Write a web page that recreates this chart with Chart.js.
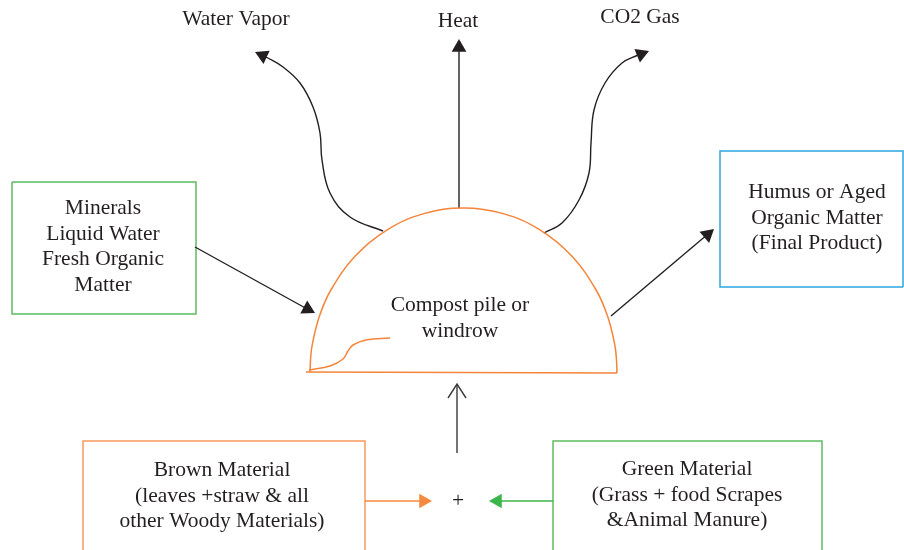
<!DOCTYPE html>
<html>
<head>
<meta charset="utf-8">
<script src="https://cdn.jsdelivr.net/npm/chart.js@4/dist/chart.umd.min.js"></script>
<style>
  html, body { margin: 0; padding: 0; background: #fff; }
  #wrap { width: 904px; height: 550px; }
</style>
</head>
<body>
<div id="wrap"><canvas id="mycanvas" width="904" height="550"></canvas></div>
<script>
// the diagram lives on a 904 x 550 grid, y running downwards

// compost pile (half ellipse + ground line + small inner curl)
var pileArc = [[310,372],[310.6,358.6],[312.3,344.4],[319.3,316.6],[330.6,290.5],[355,256.3],[386.8,230.1],[423.8,213.6],[463.5,208],[503.2,213.6],[540.3,230.1],[572,256.3],[596.4,290.5],[607.7,316.6],[614.7,344.4],[616.4,358.6],[617,373]];
var pileBase = [[306,372],[617,373]];
var pileCurl = [[309,370],[330,366],[343,359],[348,351],[353,345],[366,340],[390,338]];

// outputs going up
var vaporPath = [[383,231],[350,217],[330,193],[322,160],[320,133],[313,107],[300,83],[283,67],[266,57]];
var heatPath = [[459,208],[459,50]];
var co2Path = [[544,233],[562,223],[579,200],[589,173],[591,143],[594,110],[605,83],[622,63],[638,55]];

// side arrows
var inputPath = [[195,247],[309,310]];
var outputPath = [[611,316],[708,234]];
var feedPath = [[457,453],[457,384]];
var feedHead = [[448,398],[457,384],[466,398]];
var brownPath = [[365,501],[424,501]];
var greenPath = [[553,501],[497,501]];

// boxes
var mineralBox = [[12,182],[196,182],[196,314],[12,314],[12,182]];
var humusBox = [[903,287],[720,287],[720,151],[903,151],[903,287]];
var brownBox = [[83,556],[83,441],[365,441],[365,556]];
var greenBox = [[553,556],[553,441],[822,441],[822,556]];

// arrow tips: [tip, point it comes from]
var arrowTips = [[[255,52],[268,58]], [[459,39],[459,60]], [[649,51],[634,57]], [[315,313],[300,305]], [[714,229],[700,241]], [[432,501],[420,501]], [[489,501],[501,501]]];
var arrowColors = ['#231f20','#231f20','#231f20','#231f20','#231f20','#f58a3e','#3cb54a'];

// texts
var topLabels = ['Water Vapor', 'Heat', 'CO2 Gas'];
var topLabelX = [236, 458, 640];
var topLabelY = [25, 27, 23];
var mineralLines = ['Minerals', 'Liquid Water', 'Fresh Organic', 'Matter'];
var pileLines = ['Compost pile or', 'windrow'];
var humusLines = ['Humus or Aged', 'Organic Matter', '(Final Product)'];
var brownLines = ['Brown Material', '(leaves +straw & all', 'other Woody Materials)'];
var greenLines = ['Green Material', '(Grass + food Scrapes', '&Animal Manure)'];

var textBlocks = [
  {lines: mineralLines, x: 103, y: 214},
  {lines: pileLines, x: 460, y: 311},
  {lines: humusLines, x: 817, y: 198},
  {lines: brownLines, x: 222, y: 476},
  {lines: greenLines, x: 687, y: 475},
  {lines: ['+'], x: 458, y: 507}
];

function pts(arr) {
  return arr.map(function(p){ return {x: p[0], y: p[1]}; });
}

function lineSet(arr, color, width, curved) {
  return {
    data: pts(arr),
    showLine: true,
    borderColor: color,
    borderWidth: width,
    pointRadius: 0,
    fill: false,
    tension: curved ? 0.4 : 0
  };
}

var headR = 8.5;
var headData = [], headRot = [];
arrowTips.forEach(function(a){
  var tip = a[0], from = a[1];
  var dx = tip[0] - from[0], dy = tip[1] - from[1];
  var len = Math.sqrt(dx*dx + dy*dy);
  headData.push({x: tip[0] - dx/len*headR, y: tip[1] - dy/len*headR});
  headRot.push(Math.atan2(dx, -dy) * 180 / Math.PI);
});

var ink = '#231f20';

var textPlugin = {
  id: 'diagramText',
  afterDatasetsDraw: function(chart) {
    var ctx = chart.ctx, xs = chart.scales.x, ys = chart.scales.y;
    ctx.save();
    ctx.fillStyle = ink;
    ctx.font = '21.5px "Liberation Serif"';
    ctx.textAlign = 'center';
    ctx.textBaseline = 'alphabetic';
    for (var i = 0; i < topLabels.length; i++) {
      ctx.fillText(topLabels[i], xs.getPixelForValue(topLabelX[i]), ys.getPixelForValue(topLabelY[i]));
    }
    textBlocks.forEach(function(b){
      b.lines.forEach(function(line, j){
        ctx.fillText(line, xs.getPixelForValue(b.x), ys.getPixelForValue(b.y + j*25.7));
      });
    });
    ctx.restore();
  }
};

var chartdata = {
  datasets: [
    {
      data: headData,
      pointStyle: 'triangle',
      pointRadius: headR,
      pointRotation: headRot,
      backgroundColor: arrowColors,
      borderColor: arrowColors,
      borderWidth: 0,
      showLine: false
    },
    lineSet(pileArc, '#f4853a', 1.5, true),
    lineSet(pileBase, '#f4853a', 1.5, false),
    lineSet(pileCurl, '#f4853a', 1.5, true),
    lineSet(vaporPath, ink, 1.4, true),
    lineSet(heatPath, ink, 1.4, false),
    lineSet(co2Path, ink, 1.4, true),
    lineSet(inputPath, ink, 1.4, false),
    lineSet(outputPath, ink, 1.4, false),
    lineSet(feedPath, '#3a3a3a', 1.4, false),
    lineSet(feedHead, '#3a3a3a', 1.4, false),
    lineSet(brownPath, '#f58a3e', 1.5, false),
    lineSet(greenPath, '#3cb54a', 1.5, false),
    lineSet(mineralBox, '#5dbd60', 1.5, false),
    lineSet(humusBox, '#2aa6de', 1.5, false),
    lineSet(brownBox, '#f7995a', 1.5, false),
    lineSet(greenBox, '#5dbd60', 1.5, false)
  ]
};

var ctx = document.getElementById('mycanvas');

var diagram = new Chart(ctx, {
  type: 'scatter',
  data: chartdata,
  options: {
    responsive: false,
    animation: false,
    devicePixelRatio: 1,
    layout: { padding: 0, autoPadding: false },
    scales: {
      x: { type: 'linear', min: 0, max: 904, display: false },
      y: { type: 'linear', min: 0, max: 550, reverse: true, display: false }
    },
    plugins: {
      legend: { display: false },
      tooltip: { enabled: false }
    }
  },
  plugins: [textPlugin]
});
</script>
</body>
</html>
